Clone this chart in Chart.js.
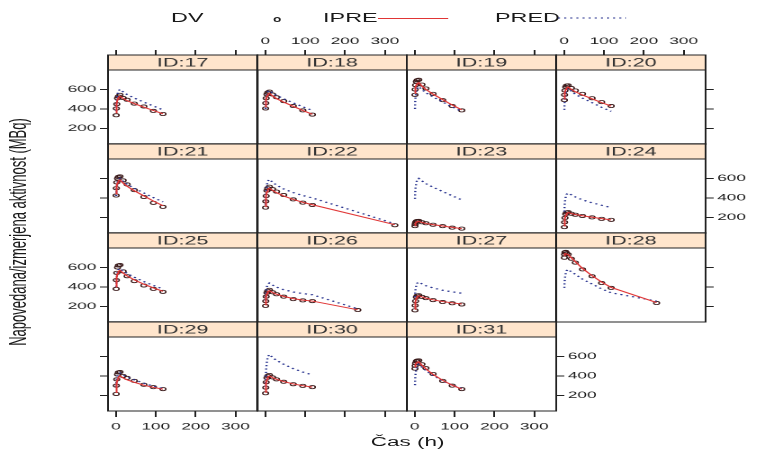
<!DOCTYPE html>
<html>
<head>
<meta charset="utf-8">
<script src="https://cdn.jsdelivr.net/npm/chart.js@4/dist/chart.umd.min.js"></script>
<style>
html, body { margin: 0; padding: 0; background: #fff; width: 762px; height: 452px; overflow: hidden; }
/* the whole trellis is laid out narrow and stretched sideways */
#page { position: absolute; left: 0; top: 0; width: 424px; height: 452px;
        transform: scaleX(1.8); transform-origin: 0 0;
        font-family: "Liberation Sans", Arial, sans-serif; color: #1a1a1a; }
#page canvas { position: absolute; }
.txt { position: absolute; white-space: nowrap; line-height: 1; }
</style>
</head>
<body>
<div id="page">
  <div class="txt" style="left:95px;top:11px;font-size:13px">DV</div>
  <div style="position:absolute;left:152px;top:16.5px;width:2px;height:3px;border:1px solid #222;border-radius:50%"></div>
  <div class="txt" style="left:179.5px;top:11px;font-size:13px">IPRE</div>
  <div style="position:absolute;left:209.5px;top:18px;width:39px;border-top:1px solid #e03535"></div>
  <div class="txt" style="left:275px;top:11px;font-size:13px">PRED</div>
  <svg style="position:absolute;left:309.5px;top:16px" width="38" height="4">
    <line x1="0" y1="2" x2="38" y2="2" stroke="#2a3590" stroke-width="1.2" stroke-dasharray="1.2 2.2"/>
  </svg>
  <div class="txt" style="left:10px;top:232px;font-size:13px;transform:translate(-50%,-50%) rotate(-90deg)">Napovedana/izmerjena aktivnost (MBq)</div>
  <div class="txt" style="left:226.5px;top:442px;font-size:12.5px;transform:translate(-50%,-50%)">Čas (h)</div>
</div>
<script>
// subjects, one panel each
const ids = ['17', '18', '19', '20', '21', '22', '23', '24', '25', '26', '27', '28', '29', '30', '31'];
// sampling times (h)
const hours = [0.5, 1, 2, 4, 6, 10, 18, 28, 46, 70, 94, 118];
// extra late sample (h) for some subjects
const lateHour = [null, null, null, null, null, 325, null, null, null, 232, null, 232, null, null, null];

// measured activity (MBq)
const dv = [
  [335, 405, 450, 510, 528, 545, 512, 494, 455, 425, 380, 348],
  [405, 460, 510, 550, 568, 578, 548, 520, 480, 430, 385, 342],
  [545, 600, 645, 680, 695, 700, 650, 610, 555, 490, 430, 385],
  [490, 545, 590, 625, 640, 642, 615, 590, 555, 510, 470, 430],
  [425, 500, 560, 600, 615, 622, 580, 540, 480, 410, 350, 308],
  [300, 365, 420, 475, 500, 515, 490, 465, 430, 385, 352, 328, 120],
  [110, 130, 148, 160, 163, 165, 150, 140, 125, 110, 95, 85],
  [100, 150, 195, 235, 250, 255, 238, 228, 215, 200, 185, 175],
  [380, 470, 545, 600, 620, 625, 560, 510, 460, 415, 380, 350],
  [205, 255, 300, 340, 360, 370, 345, 325, 300, 275, 262, 255, 163],
  [160, 210, 255, 295, 310, 315, 298, 285, 265, 245, 232, 220],
  [700, 735, 755, 760, 745, 735, 690, 650, 580, 510, 440, 390, 235],
  [215, 300, 365, 415, 435, 440, 400, 380, 350, 310, 285, 265],
  [222, 280, 335, 380, 400, 410, 385, 365, 340, 315, 298, 285],
  [475, 505, 530, 550, 558, 560, 520, 480, 420, 350, 300, 265]
];
// individual predictions
const ipre = [
  [360, 410, 455, 500, 520, 530, 508, 485, 455, 418, 384, 350],
  [420, 462, 497, 532, 550, 560, 534, 506, 470, 427, 384, 345],
  [560, 593, 620, 648, 662, 670, 636, 600, 552, 496, 440, 390],
  [500, 538, 569, 600, 616, 625, 602, 576, 543, 504, 465, 430],
  [440, 484, 520, 556, 575, 585, 553, 519, 474, 421, 368, 320],
  [310, 368, 418, 464, 488, 500, 478, 454, 420, 385, 355, 330, 125],
  [115, 128, 140, 152, 158, 160, 148, 138, 126, 112, 98, 85],
  [110, 152, 187, 222, 240, 250, 240, 230, 217, 202, 188, 175],
  [400, 450, 494, 538, 560, 570, 543, 513, 473, 428, 390, 355],
  [215, 260, 297, 334, 352, 360, 343, 325, 303, 280, 265, 255, 165],
  [170, 212, 248, 284, 302, 310, 298, 285, 268, 250, 237, 225],
  [720, 735, 742, 742, 738, 732, 700, 660, 590, 515, 450, 395, 240],
  [230, 281, 324, 366, 388, 400, 380, 360, 335, 305, 282, 265],
  [230, 281, 324, 366, 388, 400, 383, 365, 342, 318, 300, 285],
  [490, 507, 520, 534, 541, 545, 510, 472, 415, 355, 305, 265]
];
// population predictions
const pred = [
  [380, 445, 500, 555, 585, 600, 575, 548, 512, 470, 430, 390],
  [400, 457, 505, 552, 577, 590, 565, 539, 504, 463, 422, 385],
  [400, 470, 527, 585, 614, 630, 599, 566, 523, 472, 420, 375],
  [390, 456, 511, 566, 595, 610, 582, 551, 511, 464, 417, 375],
  [420, 474, 519, 564, 587, 600, 571, 540, 499, 451, 403, 360],
  [330, 408, 473, 538, 572, 590, 562, 532, 492, 455, 425, 400, 135],
  [390, 453, 506, 558, 585, 600, 575, 547, 510, 466, 422, 380],
  [260, 317, 365, 412, 437, 450, 432, 410, 380, 350, 325, 300],
  [400, 457, 505, 552, 577, 590, 565, 538, 500, 455, 415, 380],
  [260, 314, 359, 404, 427, 440, 420, 398, 372, 348, 332, 320, 175],
  [295, 340, 379, 418, 438, 450, 432, 412, 390, 366, 350, 335],
  [390, 446, 494, 542, 567, 580, 555, 530, 480, 430, 380, 340, 255],
  [290, 332, 367, 402, 420, 430, 410, 390, 360, 325, 295, 270],
  [290, 390, 470, 550, 595, 620, 590, 560, 520, 475, 440, 410],
  [305, 370, 423, 477, 505, 520, 490, 455, 405, 350, 305, 270]
];

const hourTicks = [0, 100, 200, 300];
const activityTicks = [200, 400, 600];

Chart.defaults.font.family = '"Liberation Sans", Arial, sans-serif';
Chart.defaults.color = '#1a1a1a';

const colLeft = [59.5, 142.5, 225.5, 308.5];
const rowTop = [55, 144, 233, 322];
const panelW = 83, stripH = 15, dataH = 74;
const side = 30, above = 35, below = 35;

function toPoints(vals, k) {
  return vals.map((v, i) => ({ x: i < hours.length ? hours[i] : lateHour[k], y: v }));
}

// strip with the subject label and the panel frame
const stripPlugin = {
  id: 'strip',
  afterDraw(chart, args, opts) {
    const ctx = chart.ctx, a = chart.chartArea;
    ctx.save();
    ctx.fillStyle = '#ffe5cc';
    ctx.fillRect(a.left, a.top - stripH, a.right - a.left, stripH);
    ctx.strokeStyle = '#222';
    ctx.lineWidth = 1;
    ctx.strokeRect(a.left, a.top - stripH, a.right - a.left, a.bottom - a.top + stripH);
    ctx.beginPath();
    ctx.moveTo(a.left, a.top);
    ctx.lineTo(a.right, a.top);
    ctx.stroke();
    ctx.fillStyle = '#333';
    ctx.font = '12px "Liberation Sans", Arial, sans-serif';
    ctx.textAlign = 'center';
    ctx.textBaseline = 'middle';
    ctx.fillText(opts.label, (a.left + a.right) / 2, a.top - stripH / 2 + 0.5);
    ctx.restore();
  }
};

function axis(pos, ticksOn, labelsOn, size, tickLen, pad, min, max, values) {
  const horizontal = pos === 'top' || pos === 'bottom';
  return {
    type: 'linear',
    position: pos,
    min: min, max: max,
    afterBuildTicks: s => { s.ticks = values.map(v => ({ value: v })); },
    afterFit: s => { if (horizontal) s.height = size; else s.width = size; },
    border: { display: false },
    grid: { display: ticksOn, drawOnChartArea: false, drawTicks: true,
            tickLength: tickLen, tickColor: '#222', tickWidth: 1 },
    ticks: { display: labelsOn, padding: pad, autoSkip: false, maxRotation: 0,
             font: { size: 9.5 }, color: '#1a1a1a' }
  };
}

const page = document.getElementById('page');
ids.forEach((id, k) => {
  const col = k % 4, row = Math.floor(k / 4);
  const isLast = k === ids.length - 1;
  const cv = document.createElement('canvas');
  cv.style.left = (colLeft[col] - side) + 'px';
  cv.style.top = (rowTop[row] - above) + 'px';
  cv.style.width = (panelW + 2 * side) + 'px';
  cv.style.height = (above + stripH + dataH + below) + 'px';
  page.appendChild(cv);

  new Chart(cv, {
    type: 'line',
    data: {
      datasets: [
        { label: 'IPRE', data: toPoints(ipre[k], k), xAxisID: 'x', yAxisID: 'y',
          borderColor: '#e03535', borderWidth: 1, pointRadius: 0, tension: 0 },
        { label: 'PRED', data: toPoints(pred[k], k), xAxisID: 'x', yAxisID: 'y',
          borderColor: '#2a3590', borderWidth: 1.2, borderDash: [1.2, 2.2], pointRadius: 0, tension: 0 },
        { label: 'DV', data: toPoints(dv[k], k), xAxisID: 'x', yAxisID: 'y', showLine: false,
          pointRadius: 1.6, pointBorderWidth: 0.8, pointBorderColor: '#3a1a1a',
          pointBackgroundColor: 'rgba(0,0,0,0)' }
      ]
    },
    options: {
      responsive: false,
      devicePixelRatio: 2,
      animation: false,
      events: [],
      layout: { padding: 0 },
      scales: {
        x: axis('bottom', row === 3, row === 3 && col % 2 === 0, below, 6, 4, -20, 355, hourTicks),
        xTop: axis('top', row === 0, row === 0 && col % 2 === 1, above + stripH, stripH + 5, 3, -20, 355, hourTicks),
        y: axis('left', col === 0, col === 0 && row % 2 === 0, side, 4.5, 2, 40, 800, activityTicks),
        yRight: axis('right', col === 3 || isLast, (col === 3 || isLast) && row % 2 === 1, side, 4.5, 2, 40, 800, activityTicks)
      },
      plugins: {
        legend: { display: false },
        tooltip: { enabled: false },
        strip: { label: 'ID:' + id }
      }
    },
    plugins: [stripPlugin]
  });
});
</script>
</body>
</html>
